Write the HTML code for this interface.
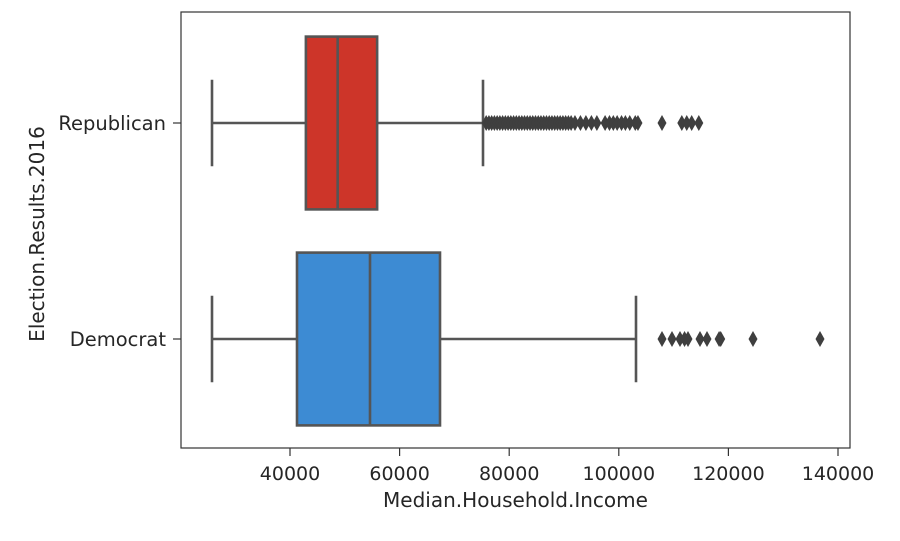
<!DOCTYPE html>
<html><head><meta charset="utf-8"><style>
body{margin:0;background:#fff;}
svg text{font-family:"DejaVu Sans","Liberation Sans",sans-serif;fill:#262626;}
</style></head><body>
<svg id="chart" width="900" height="536" xmlns="http://www.w3.org/2000/svg">
<g id="plot"></g>
</svg>
<script>
const categories = ["Republican","Democrat"];
const colors = ["#cd3529","#3d8bd3"];
const whiskerLow = [25766, 25766];
const q1 = [42900, 41277];
const medians = [48700, 54599];
const q3 = [55900, 67372];
const whiskerHigh = [75219, 103139];
const outliersRep = [75800,76300,76800,77300,77800,78300,78800,79300,79800,80300,80800,81300,81800,82300,82800,83300,83800,84300,84800,85300,85800,86300,86800,87300,87800,88300,88800,89300,89800,90300,90800,91300,92000,93000,94000,95000,96000,97500,98300,99000,99700,100500,101200,102000,103000,103500,107883,111500,112400,113300,114600];
const outliersDem = [107883,109708,111168,112000,112628,114818,116095,118300,118600,124489,136715];
const outliers = [outliersRep, outliersDem];
const xTicks = [40000,60000,80000,100000,120000,140000];
const xTickLabels = ["40000","60000","80000","100000","120000","140000"];

const L=181,R=850,T=12,B=448;
const x = v => 290 + (v-40000)*(548/100000);
const yCenters = [123, 339];
const yc = i => yCenters[i];
const bandH = 216;
const NS="http://www.w3.org/2000/svg";
const g=document.getElementById('plot');
function mk(tag,attrs){const e=document.createElementNS(NS,tag);for(const k in attrs)e.setAttribute(k,attrs[k]);g.appendChild(e);return e;}
const lc="#555", lw=2.6;
categories.forEach((c,i)=>{
  const cy=yc(i), h=bandH*0.8, cap=h/2;
  let e=mk('line',{x1:x(whiskerLow[i]),x2:x(q1[i]),y1:cy,y2:cy,stroke:lc,'stroke-width':lw});
  
  
  e=mk('line',{x1:x(q3[i]),x2:x(whiskerHigh[i]),y1:cy,y2:cy,stroke:lc,'stroke-width':lw});
  
  
  e=mk('line',{x1:x(whiskerLow[i]),x2:x(whiskerLow[i]),y1:cy-cap/2,y2:cy+cap/2,stroke:lc,'stroke-width':lw});
  
  
  e=mk('line',{x1:x(whiskerHigh[i]),x2:x(whiskerHigh[i]),y1:cy-cap/2,y2:cy+cap/2,stroke:lc,'stroke-width':lw});
  
  
  e=mk('rect',{x:x(q1[i]),y:cy-h/2,width:x(q3[i])-x(q1[i]),height:h,fill:colors[i],stroke:lc,'stroke-width':lw});
  
  
  e=mk('line',{x1:x(medians[i]),x2:x(medians[i]),y1:cy-h/2,y2:cy+h/2,stroke:lc,'stroke-width':lw});
  
  
  outliers[i].forEach(v=>{
    const px=x(v);
    const p=mk('polygon',{points:`${px},${cy-8} ${px+4.5},${cy} ${px},${cy+8} ${px-4.5},${cy}`,fill:"#3f3f3f"});
    
    
  });
  let t=mk('line',{x1:L-8,x2:L,y1:cy,y2:cy,stroke:"#333",'stroke-width':1.2});
  
  
  t=mk('text',{x:L-15,y:cy+7,'text-anchor':'end','font-size':19.5});
  t.textContent=c;
  
  
});
xTicks.forEach((v,i)=>{
  let t=mk('line',{x1:x(v),x2:x(v),y1:B,y2:B+8,stroke:"#333",'stroke-width':1.2});
  
  
  t=mk('text',{x:x(v),y:480,'text-anchor':'middle','font-size':19});
  t.textContent=xTickLabels[i];
  
  
});
let f=mk('rect',{x:L,y:T,width:R-L,height:B-T,fill:"none",stroke:"#333",'stroke-width':1.2});


let xt=mk('text',{x:(L+R)/2,y:507,'text-anchor':'middle','font-size':20});
xt.textContent="Median.Household.Income";


let yt=mk('text',{x:0,y:0,'text-anchor':'middle','font-size':20,transform:`translate(44,${(T+B)/2+4}) rotate(-90)`});
yt.textContent="Election.Results.2016";


</script>
</body></html>
